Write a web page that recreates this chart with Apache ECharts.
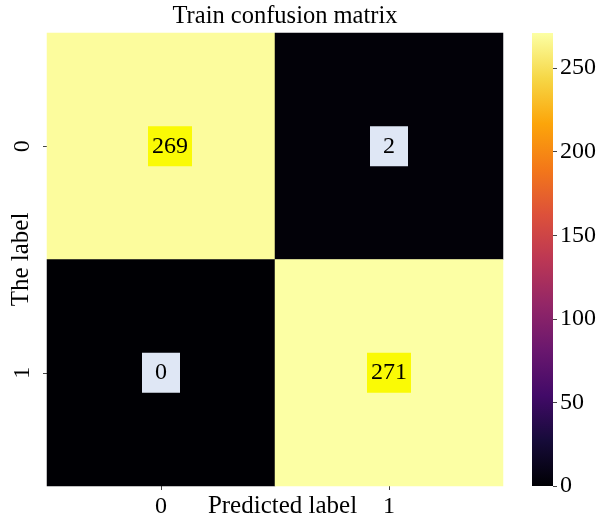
<!DOCTYPE html>
<html>
<head>
<meta charset="utf-8">
<script src="https://cdn.jsdelivr.net/npm/echarts@6/dist/echarts.min.js"></script>
<style>html,body{margin:0;padding:0;background:#fff}#c{width:609px;height:517px}</style>
</head>
<body>
<div id="c"></div>
<script>
const xCategories = ['0', '1'];
const yCategories = ['0', '1'];
const row0 = [269, 2];
const row1 = [0, 271];
const colorTicks = [0, 50, 100, 150, 200, 250];
const vMin = 0;
const vMax = 271;

const FONT = '"Liberation Serif", "Times New Roman", serif';
const inferno = ['#000004','#160b39','#420a68','#6a176e','#932667','#bc3754','#dd513a','#f37819','#fca50a','#f6d746','#fcffa4'];

const rows = [row0, row1];
const data = [];
rows.forEach((r, yi) => r.forEach((v, xi) => {
  const item = { value: [xi, yi, v] };
  if (xi === 0 && yi === 0) item.label = { offset: [9, 0] };
  data.push(item);
}));

const gradient = new echarts.graphic.LinearGradient(0, 1, 0, 0,
  inferno.map((c, i) => ({ offset: i / (inferno.length - 1), color: c })));

const chart = echarts.init(document.getElementById('c'), null, { renderer: 'canvas' });
chart.setOption({
  backgroundColor: '#ffffff',
  animation: false,
  textStyle: { fontFamily: FONT },
  title: {
    text: 'Train confusion matrix',
    left: 285, top: 4, textAlign: 'center', padding: 0,
    textStyle: { fontFamily: FONT, fontSize: 24.5, fontWeight: 'normal', color: '#000' }
  },
  grid: [
    { left: 47, top: 33, width: 456, height: 453, outerBoundsMode: 'none', containLabel: false },
    { left: 532, top: 33, width: 21, height: 453, outerBoundsMode: 'none', containLabel: false }
  ],
  xAxis: [
    {
      type: 'category', data: xCategories, gridIndex: 0,
      name: 'Predicted label', nameLocation: 'middle', nameGap: 8, nameMoveOverlap: false,
      nameTextStyle: { fontFamily: FONT, fontSize: 25, color: '#000', verticalAlign: 'top', padding: [0, 0, 0, 15] },
      axisLine: { show: false },
      axisTick: { show: true, alignWithLabel: true, length: 4, lineStyle: { color: '#444' } },
      axisLabel: { fontFamily: FONT, fontSize: 24, color: '#000', margin: 9 },
      splitLine: { show: false }, splitArea: { show: false }
    },
    { type: 'category', data: ['cb'], gridIndex: 1, show: false }
  ],
  yAxis: [
    {
      type: 'category', data: yCategories, gridIndex: 0, inverse: true,
      name: 'The label', nameLocation: 'middle', nameGap: 13, nameMoveOverlap: false,
      nameTextStyle: { fontFamily: FONT, fontSize: 25, color: '#000' },
      axisLine: { show: false },
      axisTick: { show: true, alignWithLabel: true, length: 4, lineStyle: { color: '#444' } },
      axisLabel: { fontFamily: FONT, fontSize: 24, color: '#000', rotate: 90, margin: 12 },
      splitLine: { show: false }, splitArea: { show: false }
    },
    {
      type: 'value', gridIndex: 1, position: 'right', min: vMin, max: vMax,
      axisLine: { show: false },
      axisTick: { show: true, length: 4, customValues: colorTicks, lineStyle: { color: '#444' } },
      axisLabel: { fontFamily: FONT, fontSize: 24, color: '#000', margin: 7, customValues: colorTicks },
      splitLine: { show: false }
    }
  ],
  visualMap: {
    type: 'continuous', min: vMin, max: vMax, show: false,
    seriesIndex: 0, inRange: { color: inferno }
  },
  series: [
    {
      type: 'heatmap', xAxisIndex: 0, yAxisIndex: 0, data: data,
      itemStyle: { borderWidth: 0 },
      emphasis: { disabled: true },
      label: {
        show: true,
        formatter: p => (p.value[2] > vMax / 2 ? '{hi|' : '{lo|') + p.value[2] + '}',
        rich: {
          hi: { fontFamily: FONT, fontSize: 24, lineHeight: 25, color: '#000', backgroundColor: '#fafa05', padding: [8, 4, 8, 4] },
          lo: { fontFamily: FONT, fontSize: 24, lineHeight: 25, color: '#000', backgroundColor: '#dfe7f5', padding: [8, 13, 8, 13] }
        }
      }
    },
    {
      type: 'bar', xAxisIndex: 1, yAxisIndex: 1, data: [vMax], barWidth: '100%',
      silent: true, itemStyle: { color: gradient }
    }
  ]
});
</script>
</body>
</html>
